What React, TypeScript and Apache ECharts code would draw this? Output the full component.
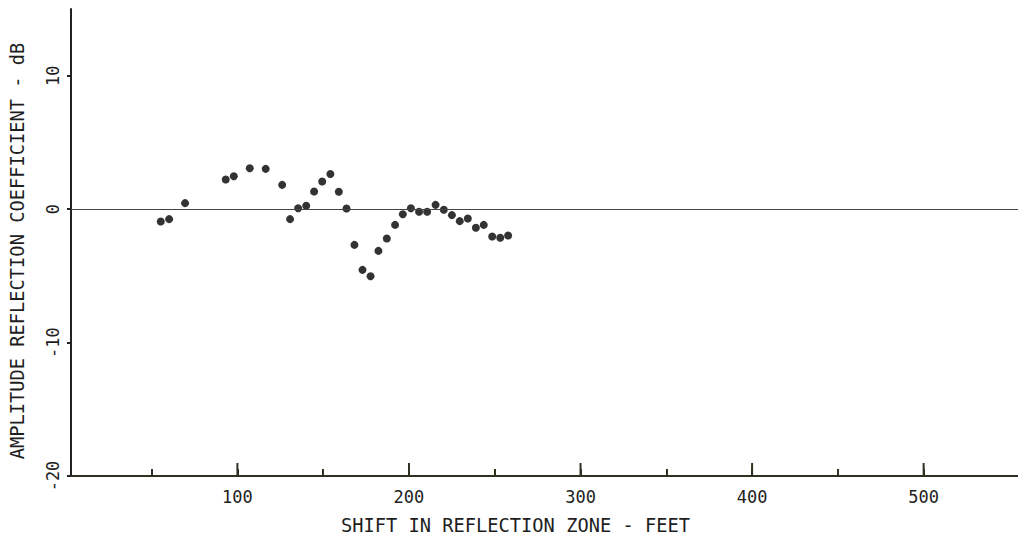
import React, { useEffect, useRef } from "react";
import * as echarts from "echarts";

const shiftFeet = [
  55.3, 60.2, 69.5, 93.2, 97.9, 107.2, 116.5, 126.1, 130.7, 135.4, 140.1, 144.7,
  149.4, 154.2, 159.1, 163.6, 168.2, 172.9, 177.6, 182.2, 187.1, 191.9, 196.4,
  201.1, 205.9, 210.6, 215.5, 220.3, 225.0, 229.6, 234.3, 239.0, 243.6, 248.5,
  253.2, 257.8,
];
const coefficientDb = [
  -0.93, -0.75, 0.45, 2.22, 2.47, 3.07, 3.02, 1.82, -0.75, 0.07, 0.25, 1.32,
  2.07, 2.63, 1.3, 0.05, -2.68, -4.55, -5.03, -3.13, -2.2, -1.18, -0.38, 0.07,
  -0.2, -0.2, 0.32, -0.05, -0.45, -0.9, -0.7, -1.4, -1.18, -2.05, -2.15, -1.98,
];
const majorXTicks = [100, 200, 300, 400, 500];
const allXTicks = [50, 100, 150, 200, 250, 300, 350, 400, 450, 500];
const yTicks = [-20, -10, 0, 10];

const FONT = "DejaVu Sans Mono";
const INK = "#1e1e1e";
const AXIS_INK = "#2b3220";
const Y_MIN = -20;
const MAJOR_TICK_PX = 13;

export default function App() {
  const ref = useRef<HTMLDivElement>(null);
  useEffect(() => {
    if (!ref.current) return;
    const chart = echarts.init(ref.current, undefined, { renderer: "svg" });
    const points = shiftFeet.map((x, i) => [x, coefficientDb[i]]);
    chart.setOption({
      animation: false,
      backgroundColor: "#ffffff",
      grid: { left: 71, right: 0, top: 9, bottom: 65 },
      xAxis: [
        {
          type: "value",
          min: 3,
          max: 555,
          position: "bottom",
          z: 5,
          axisLine: { show: true, onZero: false, lineStyle: { color: AXIS_INK, width: 2 } },
          axisTick: {
            show: true,
            inside: true,
            length: 7,
            customValues: allXTicks,
            lineStyle: { color: AXIS_INK, width: 2 },
          },
          axisLabel: { show: false },
          splitLine: { show: false },
        },
        {
          type: "value",
          min: 3,
          max: 555,
          position: "bottom",
          z: -1,
          name: "SHIFT IN REFLECTION ZONE - FEET",
          nameLocation: "middle",
          nameGap: 40,
          nameTextStyle: {
            fontFamily: FONT,
            fontSize: 18.7,
            color: INK,
            padding: [0, 58, 0, 0],
          },
          axisLine: { show: false, onZero: false },
          axisTick: { show: false },
          axisLabel: {
            show: true,
            customValues: majorXTicks,
            fontFamily: FONT,
            fontSize: 17,
            color: INK,
            margin: 12,
          },
          splitLine: { show: false },
        },
      ],
      yAxis: {
        type: "value",
        min: Y_MIN,
        max: 15,
        interval: 10,
        name: "AMPLITUDE REFLECTION COEFFICIENT - dB",
        nameLocation: "middle",
        nameRotate: 90,
        nameGap: 44,
        nameTextStyle: {
          fontFamily: FONT,
          fontSize: 18.7,
          color: INK,
          padding: [0, 17, 0, 0],
        },
        axisLine: { show: true, onZero: false, lineStyle: { color: "#222", width: 2 } },
        axisTick: {
          show: true,
          length: 4,
          customValues: yTicks,
          lineStyle: { color: "#222", width: 2 },
        },
        axisLabel: {
          show: true,
          rotate: 90,
          customValues: yTicks,
          fontFamily: FONT,
          fontSize: 17,
          color: INK,
          margin: 10,
          formatter: (v: number) => String(v),
        },
        splitLine: { show: false },
      },
      series: [
        {
          type: "scatter",
          data: points,
          symbol: "circle",
          symbolSize: 8,
          itemStyle: { color: "#000" },
          markLine: {
            silent: true,
            symbol: "none",
            label: { show: false },
            lineStyle: { color: "#444", width: 1, type: "solid" },
            data: [{ yAxis: 0 }],
          },
        },
        {
          type: "custom",
          silent: true,
          clip: false,
          z: 20,
          data: majorXTicks.map((v) => [v, Y_MIN]),
          renderItem: (_params: any, api: any) => {
            const p = api.coord([api.value(0), api.value(1)]);
            return {
              type: "line",
              shape: { x1: p[0], y1: p[1], x2: p[0], y2: p[1] - MAJOR_TICK_PX },
              style: { stroke: AXIS_INK, lineWidth: 2 },
            };
          },
        },
      ],
    });
    return () => chart.dispose();
  }, []);
  return (
    <div
      ref={ref}
      style={{ position: "fixed", left: 0, top: 0, width: 1018, height: 541 }}
    />
  );
}
